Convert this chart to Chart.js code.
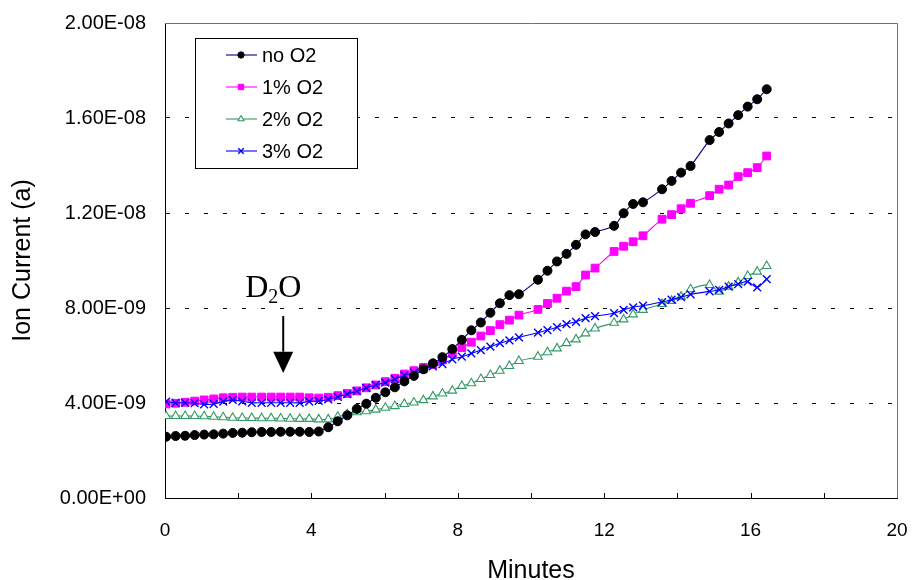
<!DOCTYPE html>
<html>
<head>
<meta charset="utf-8">
<script src="https://cdn.jsdelivr.net/npm/chart.js@4.4.1/dist/chart.umd.min.js"></script>
<style>
  html, body { margin: 0; padding: 0; background: #fff; }
  #wrap { width: 917px; height: 580px; }
</style>
</head>
<body>
<div id="wrap"><canvas id="chart"></canvas></div>
<script>
// time of each reading, minutes
const minutes = [0.03, 0.29, 0.55, 0.81, 1.07, 1.33, 1.59, 1.85, 2.11, 2.37, 2.64, 2.90, 3.16, 3.42, 3.68, 3.94,
  4.20, 4.46, 4.72, 4.98, 5.24, 5.50, 5.76, 6.02, 6.28, 6.54, 6.80, 7.06, 7.32, 7.58, 7.85, 8.11,
  8.37, 8.63, 8.89, 9.15, 9.41, 9.67, 9.93, 10.19, 10.45, 10.71, 10.97, 11.23, 11.49, 11.75, 12.01, 12.27,
  12.53, 12.79, 13.06, 13.32, 13.58, 13.84, 14.10, 14.36, 14.62, 14.88, 15.14, 15.40, 15.66, 15.92, 16.18, 16.44];

// ion current in units of 1E-09 A (null = no reading)
const noO2 = [2.58, 2.61, 2.62, 2.65, 2.67, 2.68, 2.71, 2.74, 2.75, 2.77, 2.78, 2.78, 2.79, 2.79, 2.79, 2.78,
  2.80, 2.98, 3.23, 3.48, 3.75, 3.97, 4.22, 4.45, 4.66, 4.91, 5.14, 5.42, 5.67, 5.93, 6.27, 6.66,
  7.06, 7.39, 7.80, 8.20, 8.54, 8.58, null, 9.19, 9.57, 9.96, 10.28, 10.66, 11.10, 11.20, null, 11.46,
  11.99, 12.38, 12.45, null, 13.00, 13.35, 13.70, 13.98, null, 15.07, 15.41, 15.77, 16.12, 16.48, 16.79, 17.21];
const o2_1 = [3.96, 3.99, 4.03, 4.08, 4.13, 4.17, 4.22, 4.24, 4.25, 4.25, 4.25, 4.25, 4.25, 4.25, 4.25, 4.22,
  4.21, 4.24, 4.31, 4.40, 4.51, 4.64, 4.76, 4.90, 5.04, 5.22, 5.36, 5.50, 5.62, 5.81, 6.09, 6.33,
  6.56, 6.82, 7.05, 7.30, 7.49, 7.70, null, 7.94, 8.19, 8.41, 8.71, 8.90, 9.39, 9.68, null, 10.38,
  10.60, 10.79, 11.04, null, 11.74, 11.93, 12.18, 12.41, null, 12.73, 13.00, 13.18, 13.53, 13.70, 13.91, 14.40];
const o2_2 = [3.45, 3.45, 3.45, 3.45, 3.44, 3.42, 3.40, 3.38, 3.37, 3.37, 3.36, 3.36, 3.35, 3.34, 3.33, 3.33,
  3.31, 3.31, 3.42, 3.53, 3.61, 3.65, 3.72, 3.80, 3.87, 3.96, 4.02, 4.12, 4.28, 4.40, 4.52, 4.72,
  4.83, 5.01, 5.18, 5.36, 5.56, 5.77, null, 5.95, 6.14, 6.30, 6.52, 6.68, 6.93, 7.14, null, 7.38,
  7.52, 7.73, 7.92, null, 8.17, 8.30, 8.48, 8.79, null, 8.97, 8.69, 8.90, 9.08, 9.35, 9.53, 9.77];
const o2_3 = [4.06, 4.01, 4.01, 3.99, 3.94, 3.96, 4.06, 4.13, 4.07, 4.01, 4.01, 4.01, 4.01, 4.01, 4.01, 4.06,
  4.09, 4.15, 4.26, 4.37, 4.50, 4.64, 4.76, 4.86, 5.00, 5.16, 5.28, 5.43, 5.54, 5.64, 5.84, 5.95,
  6.09, 6.23, 6.37, 6.52, 6.64, 6.76, null, 6.96, 7.07, 7.19, 7.32, 7.42, 7.57, 7.66, null, 7.78,
  7.92, 8.03, 8.10, null, 8.25, 8.35, 8.46, 8.57, null, 8.70, 8.76, 8.90, 9.01, 9.11, 8.87, 9.22];

const seriesNames = ['no O2', '1% O2', '2% O2', '3% O2'];
const yTickLabels = ['0.00E+00', '4.00E-09', '8.00E-09', '1.20E-08', '1.60E-08', '2.00E-08'];
const xTickLabels = ['0', '4', '8', '12', '16', '20'];

const sans = '"Liberation Sans", Arial, sans-serif';

function points(values) {
  return minutes.map((m, i) => ({ x: m, y: values[i] })).filter(p => p.y !== null);
}

const styles = [
  { line: '#000080', fill: '#000000', edge: '#000000', shape: 'circle', r: 4.5, bw: 1, order: 0 },
  { line: '#ff00ff', fill: '#ff00ff', edge: '#ff00ff', shape: 'rect', r: 5.5, bw: 1, order: 3 },
  { line: '#339966', fill: '#ffffff', edge: '#339966', shape: 'triangle', r: 5, bw: 1.1, order: 2 },
  { line: '#0000ff', fill: '#0000ff', edge: '#0000ff', shape: 'crossRot', r: 5.5, bw: 1.4, order: 1 }
];
const allSeries = [noO2, o2_1, o2_2, o2_3];

const datasets = allSeries.map((s, i) => ({
  label: seriesNames[i],
  data: points(s),
  borderColor: styles[i].line,
  borderWidth: 1.1,
  tension: 0.3,
  pointStyle: styles[i].shape,
  pointRadius: styles[i].r,
  pointBackgroundColor: styles[i].fill,
  pointBorderColor: styles[i].edge,
  pointBorderWidth: styles[i].bw,
  order: styles[i].order
}));

const extras = {
  id: 'extras',
  afterDraw(chart) {
    const { ctx, chartArea: a, scales } = chart;
    const x = scales.x, y = scales.y;
    ctx.save();

    // top and right frame of the plot area
    ctx.strokeStyle = '#707070';
    ctx.lineWidth = 1;
    ctx.beginPath();
    ctx.moveTo(a.left, Math.round(a.top) + 0.5);
    ctx.lineTo(Math.round(a.right) + 0.5, Math.round(a.top) + 0.5);
    ctx.lineTo(Math.round(a.right) + 0.5, a.bottom);
    ctx.stroke();

    // inside tick marks on the x axis
    ctx.strokeStyle = '#000';
    ctx.lineWidth = 1;
    for (let v = 2; v < 20; v += 2) {
      const px = Math.round(x.getPixelForValue(v)) + 0.5;
      ctx.beginPath();
      ctx.moveTo(px, a.bottom);
      ctx.lineTo(px, a.bottom - 5);
      ctx.stroke();
    }

    // D2O label and arrow
    const ax = x.getPixelForValue(3.23);
    const yTop = y.getPixelForValue(7.66);
    const yBase = y.getPixelForValue(6.16);
    const yTip = y.getPixelForValue(5.26);
    const yText = y.getPixelForValue(8.46);
    ctx.fillStyle = '#000';
    ctx.textBaseline = 'alphabetic';
    ctx.textAlign = 'left';
    ctx.font = '32px "Liberation Serif", "Times New Roman", serif';
    let tx = ax - 38;
    ctx.fillText('D', tx, yText);
    tx += ctx.measureText('D').width;
    ctx.font = '20px "Liberation Serif", "Times New Roman", serif';
    ctx.fillText('2', tx, yText + 6);
    tx += ctx.measureText('2').width;
    ctx.font = '32px "Liberation Serif", "Times New Roman", serif';
    ctx.fillText('O', tx, yText);

    ctx.lineWidth = 2;
    ctx.beginPath();
    ctx.moveTo(ax, yTop);
    ctx.lineTo(ax, yBase);
    ctx.stroke();
    ctx.beginPath();
    ctx.moveTo(ax - 10, yBase);
    ctx.lineTo(ax + 10, yBase);
    ctx.lineTo(ax, yTip);
    ctx.closePath();
    ctx.fill();

    // legend box
    const lx = 195.5, ly = 38.5, lw = 162, lh = 130;
    ctx.fillStyle = '#fff';
    ctx.fillRect(lx, ly, lw, lh);
    ctx.strokeStyle = '#000';
    ctx.lineWidth = 1;
    ctx.strokeRect(lx, ly, lw, lh);
    ctx.font = '20px ' + sans;
    ctx.textBaseline = 'middle';
    seriesNames.forEach((name, i) => {
      const st = styles[i];
      const cy = 55 + i * 32;
      ctx.strokeStyle = st.line;
      ctx.lineWidth = 1.1;
      ctx.beginPath();
      ctx.moveTo(226, cy);
      ctx.lineTo(257, cy);
      ctx.stroke();
      ctx.fillStyle = st.fill;
      ctx.strokeStyle = st.edge;
      ctx.lineWidth = st.bw;
      Chart.helpers.drawPoint(ctx, { pointStyle: st.shape, radius: st.r * 0.7, borderWidth: st.bw, rotation: 0 }, 241, cy);
      ctx.fillStyle = '#000';
      ctx.fillText(name, 262, cy + 1);
    });

    ctx.restore();
  }
};

new Chart(document.getElementById('chart'), {
  type: 'line',
  data: { datasets: datasets },
  plugins: [extras],
  options: {
    responsive: true,
    maintainAspectRatio: false,
    animation: false,
    layout: { padding: { top: 23, right: 20, left: 0, bottom: 0 } },
    plugins: {
      legend: { display: false },
      tooltip: { enabled: false }
    },
    scales: {
      x: {
        type: 'linear',
        min: 0,
        max: 20,
        afterFit: s => { s.height = 82; s.paddingLeft = 0; s.paddingRight = 0; },
        ticks: {
          stepSize: 2,
          autoSkip: false,
          maxRotation: 0,
          padding: 21,
          color: '#000',
          font: { family: sans, size: 19 },
          callback: v => (v % 4 === 0 ? xTickLabels[v / 4] : '')
        },
        grid: { drawOnChartArea: false, drawTicks: false },
        border: { display: true, color: '#000', width: 1 },
        title: {
          display: true,
          text: 'Minutes',
          color: '#000',
          font: { family: sans, size: 25, lineHeight: 1 },
          padding: { top: 0, bottom: -4 }
        }
      },
      y: {
        min: 0,
        max: 20,
        afterFit: s => { s.width = 165; s.paddingTop = 0; s.paddingBottom = 0; },
        ticks: {
          stepSize: 4,
          padding: 19,
          color: '#000',
          font: { family: sans, size: 20 },
          callback: v => yTickLabels[Math.round(v / 4)]
        },
        grid: {
          drawTicks: false,
          color: c => (c.tick && c.tick.value > 0 && c.tick.value < 20) ? '#000' : 'rgba(0,0,0,0)',
          lineWidth: 1
        },
        border: { display: true, color: '#000', width: 1, dash: [4, 15] },
        title: {
          display: true,
          text: 'Ion Current (a)',
          color: '#000',
          font: { family: sans, size: 25, lineHeight: 1.2 },
          padding: { top: 8, bottom: 0 }
        }
      }
    }
  }
});
</script>
</body>
</html>
